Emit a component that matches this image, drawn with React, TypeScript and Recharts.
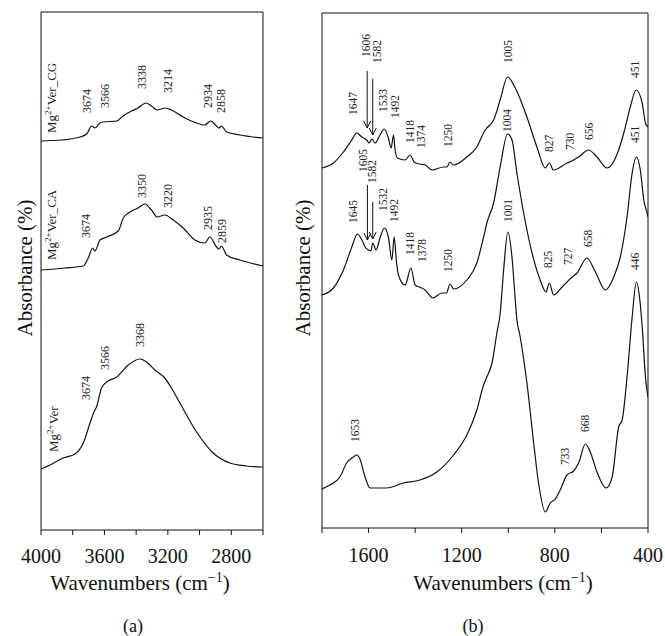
import React from "react";
import { LineChart, Line, XAxis, YAxis, ReferenceDot, ReferenceLine } from "recharts";

const FONT = '"Liberation Serif", "Times New Roman", serif';
const INK = "#111";

// (a) OH stretching region — [wavenumber, absorbance (arb. units, stacked)]
const verCG_a: [number, number][] = [
  [4000, 389], [3870, 390], [3754, 393], [3712, 396], [3681, 404], [3660, 402], [3628, 407], [3609, 408],
  [3523, 409], [3483, 414], [3429, 419], [3389, 422], [3338, 427], [3303, 424], [3267, 420], [3219, 422],
  [3177, 420], [3103, 413], [3019, 407], [2967, 405], [2931, 409], [2893, 404], [2878, 402], [2862, 404],
  [2830, 398], [2746, 395], [2600, 392],
];
const verCA_a: [number, number][] = [
  [4000, 260], [3850, 262], [3733, 264], [3702, 272], [3674, 282], [3660, 279], [3628, 290], [3586, 293],
  [3513, 299], [3481, 312], [3439, 318], [3387, 322], [3345, 326], [3303, 320], [3267, 313], [3219, 315],
  [3166, 310], [3103, 302], [3030, 290], [2967, 287], [2935, 293], [2893, 283], [2878, 281], [2862, 284],
  [2830, 275], [2746, 270], [2600, 264],
];
const ver_a: [number, number][] = [
  [4000, 61], [3930, 66], [3860, 72], [3786, 76], [3733, 87], [3691, 107], [3666, 118], [3650, 123],
  [3618, 142], [3576, 149], [3523, 153], [3450, 165], [3376, 171], [3334, 168], [3282, 160], [3219, 152],
  [3170, 140], [3124, 127], [3019, 98], [2914, 77], [2809, 67], [2704, 64], [2600, 63],
];

// (b) fingerprint region
const verCG_b: [number, number][] = [
  [1800, 360], [1751, 365], [1708, 376], [1672, 388], [1651, 395], [1629, 391], [1608, 388], [1597, 385],
  [1586, 389], [1572, 385], [1551, 393], [1533, 399], [1515, 390], [1503, 380], [1493, 393], [1486, 378],
  [1476, 370], [1443, 368], [1422, 373], [1404, 366], [1382, 364], [1357, 363], [1328, 358], [1278, 361],
  [1264, 361], [1250, 366], [1235, 363], [1178, 371], [1135, 381], [1099, 398], [1092, 400], [1063, 408],
  [1035, 428], [1003, 451], [970, 440], [920, 411], [877, 381], [841, 360], [824, 365], [806, 358],
  [748, 365], [719, 368], [698, 371], [655, 378], [619, 371], [576, 360], [526, 378], [504, 395],
  [476, 421], [451, 438], [425, 425], [411, 405], [400, 401],
];
const verCA_b: [number, number][] = [
  [1800, 233], [1751, 240], [1708, 258], [1672, 281], [1648, 294], [1629, 288], [1612, 280], [1600, 278],
  [1590, 277], [1582, 285], [1568, 278], [1551, 290], [1532, 300], [1515, 291], [1500, 268], [1490, 291],
  [1481, 268], [1472, 253], [1443, 243], [1418, 260], [1400, 243], [1382, 241], [1357, 238], [1324, 230],
  [1285, 235], [1266, 235], [1250, 244], [1235, 239], [1178, 248], [1135, 265], [1106, 291], [1092, 305],
  [1063, 325], [1035, 361], [1003, 394], [984, 388], [963, 355], [934, 315], [898, 275], [863, 248],
  [838, 236], [824, 245], [805, 233], [769, 241], [726, 251], [705, 255], [662, 270], [626, 256],
  [583, 238], [547, 251], [519, 271], [490, 311], [468, 355], [450, 371], [433, 358], [418, 328],
  [404, 315], [400, 311],
];
const ver_b: [number, number][] = [
  [1800, 39], [1766, 43], [1723, 51], [1694, 65], [1665, 71], [1651, 73], [1637, 69], [1615, 51],
  [1594, 40], [1522, 40], [1450, 45], [1379, 48], [1307, 56], [1235, 73], [1178, 93], [1135, 118],
  [1106, 143], [1092, 151], [1070, 165], [1049, 195], [1035, 214], [1020, 258], [1002, 296], [983, 268],
  [970, 228], [963, 208], [952, 195], [920, 145], [891, 85], [870, 45], [841, 16], [820, 25],
  [798, 29], [777, 38], [748, 53], [719, 57], [698, 65], [669, 84], [648, 76], [619, 56],
  [580, 40], [554, 51], [526, 101], [511, 108], [490, 151], [468, 211], [450, 246], [435, 228],
  [424, 198], [411, 151], [400, 131],
];

// peak labels: [wavenumber, absorbance, text]
const peaksA: [number, number, string][] = [
  [3710, 417, "3674"], [3597, 422, "3566"], [3364, 441, "3338"], [3200, 437, "3214"], [2948, 422, "2934"], [2866, 417, "2858"],
  [3716, 292, "3674"], [3364, 332, "3350"], [3200, 322, "3220"], [2948, 300, "2935"], [2860, 287, "2859"],
  [3716, 130, "3674"], [3597, 160, "3566"], [3376, 183, "3368"],
];
const samplesA: [number, number, string][] = [
  [3931, 397, "Ver_CG"], [3931, 270, "Ver_CA"], [3924, 78, "Ver"],
];
const peaksB: [number, number, string][] = [
  [1611, 471, "1606"], [1564, 465, "1582"], [1667, 413, "1647"], [1538, 416, "1533"], [1486, 410, "1492"],
  [1422, 385, "1418"], [1374, 380, "1374"], [1258, 381, "1250"], [1000, 465, "1005"], [824, 376, "827"],
  [734, 378, "730"], [652, 388, "656"], [454, 450, "451"],
  [1624, 356, "1605"], [1585, 345, "1582"], [1667, 305, "1645"], [1538, 317, "1532"], [1490, 306, "1492"],
  [1422, 273, "1418"], [1370, 266, "1378"], [1258, 256, "1250"], [1005, 396, "1004"], [828, 260, "825"],
  [742, 263, "727"], [656, 281, "658"], [454, 385, "451"],
  [1000, 306, "1001"], [454, 258, "446"], [1658, 86, "1653"], [755, 63, "733"], [669, 96, "668"],
];
// arrows: [wavenumber, from, to]
const arrowsB: [number, number, number][] = [
  [1606, 457, 400], [1582, 449, 393], [1605, 343, 288], [1582, 326, 289],
];

const ticksA = [4000, 3800, 3600, 3400, 3200, 3000, 2800, 2600];
const labeledA = [4000, 3600, 3200, 2800];
const ticksB = [1800, 1600, 1400, 1200, 1000, 800, 600, 400];
const labeledB = [1600, 1200, 800, 400];

const pts = (arr: [number, number][]) => arr.map(([wn, a]) => ({ wn, a }));

const vText = (text: React.ReactNode, size: number) => (p: any) => (
  <text x={p.cx} y={p.cy} dy="0.35em" transform={`rotate(-90 ${p.cx} ${p.cy})`}
    style={{ fontFamily: FONT }} fontSize={size} fill="#222">{text}</text>
);

const sampleName = (name: string) => (
  <>Mg<tspan dy={-5} fontSize={9}>2+</tspan><tspan dy={5}>{name}</tspan></>
);

const Arrow = (p: any) => {
  const { x1, y1, x2, y2 } = p;
  return (
    <g stroke={INK} strokeWidth={1} fill="none">
      <line x1={x1} y1={y1} x2={x2} y2={y2} />
      <polyline points={`${x2 - 3.5},${y2 - 7} ${x2},${y2} ${x2 + 3.5},${y2 - 7}`} />
    </g>
  );
};

const yLabel = (x: number) => () => {
  const y = 268;
  return (
    <text x={x} y={y} dy="0.35em" textAnchor="middle" transform={`rotate(-90 ${x} ${y})`}
      style={{ fontFamily: FONT }} fontSize={21} fill={INK}>Absorbance (%)</text>
  );
};

const xLabel = (titleX: number, letter: string, letterX: number) => () => (
  <g style={{ fontFamily: FONT }} fill={INK}>
    <text x={titleX} y={590} textAnchor="middle" fontSize={21}>
      Wavenumbers (cm<tspan dy={-8} fontSize={14}>−1</tspan><tspan dy={8}>)</tspan>
    </text>
    <text x={letterX} y={632} textAnchor="middle" fontSize={18}>({letter})</text>
  </g>
);

function frame(domain: number[], yMax: number) {
  return [
    <XAxis key="xt" xAxisId="t" orientation="top" type="number" domain={domain} allowDataOverflow reversed
      height={1} tick={false} tickLine={false} axisLine={{ stroke: INK }} />,
    <YAxis key="yr" yAxisId="r" orientation="right" type="number" domain={[0, yMax]} allowDataOverflow
      width={1} tick={false} tickLine={false} axisLine={{ stroke: INK }} />,
  ];
}

const series = (arr: [number, number][], key: string) => (
  <Line key={key} data={pts(arr)} dataKey="a" type="monotone" dot={false} stroke={INK}
    strokeWidth={1.2} isAnimationActive={false} />
);

export default function App() {
  const tickStyle = { fontFamily: FONT, fontSize: 20, fill: INK };
  return (
    <div style={{ position: "absolute", left: 0, top: 0, width: 665, height: 636, background: "#fff" }}>
      <div style={{ position: "absolute", left: 0, top: 0 }}>
        <LineChart width={265} height={636} margin={{ top: 11, right: 1, bottom: 76, left: 40 }}>
          <XAxis dataKey="wn" type="number" domain={[2600, 4000]} allowDataOverflow reversed
            ticks={ticksA} interval={0} height={30} tickSize={5} tickMargin={14}
            tickFormatter={(v: number) => (labeledA.includes(v) ? String(v) : "")}
            tick={tickStyle} stroke={INK} label={xLabel(140, "a", 133)} />
          <YAxis type="number" domain={[0, 518]} allowDataOverflow width={1} tick={false} tickLine={false}
            axisLine={{ stroke: INK }} label={yLabel(25)} />
          {frame([2600, 4000], 518)}
          {series(verCG_a, "cg")}
          {series(verCA_a, "ca")}
          {series(ver_a, "v")}
          {peaksA.map(([wn, a, t], i) => (
            <ReferenceDot key={"pa" + i} x={wn} y={a} ifOverflow="visible" shape={vText(t, 12)} />
          ))}
          {samplesA.map(([wn, a, n], i) => (
            <ReferenceDot key={"sa" + i} x={wn} y={a} ifOverflow="visible" shape={vText(sampleName(n), 13)} />
          ))}
        </LineChart>
      </div>
      <div style={{ position: "absolute", left: 265, top: 0 }}>
        <LineChart width={400} height={636} margin={{ top: 12, right: 16, bottom: 78, left: 56 }}>
          <XAxis dataKey="wn" type="number" domain={[400, 1800]} allowDataOverflow reversed
            ticks={ticksB} interval={0} height={30} tickSize={5} tickMargin={15}
            tickFormatter={(v: number) => (labeledB.includes(v) ? String(v) : "")}
            tick={tickStyle} stroke={INK} label={xLabel(238, "b", 208)} />
          <YAxis type="number" domain={[0, 515]} allowDataOverflow width={1} tick={false} tickLine={false}
            axisLine={{ stroke: INK }} label={yLabel(37.5)} />
          {frame([400, 1800], 515)}
          {series(verCG_b, "cg")}
          {series(verCA_b, "ca")}
          {series(ver_b, "v")}
          {arrowsB.map(([wn, from, to], i) => (
            <ReferenceLine key={"ar" + i} segment={[{ x: wn, y: from }, { x: wn, y: to }]}
              ifOverflow="visible" shape={Arrow} />
          ))}
          {peaksB.map(([wn, a, t], i) => (
            <ReferenceDot key={"pb" + i} x={wn} y={a} ifOverflow="visible" shape={vText(t, 11.5)} />
          ))}
        </LineChart>
      </div>
    </div>
  );
}
